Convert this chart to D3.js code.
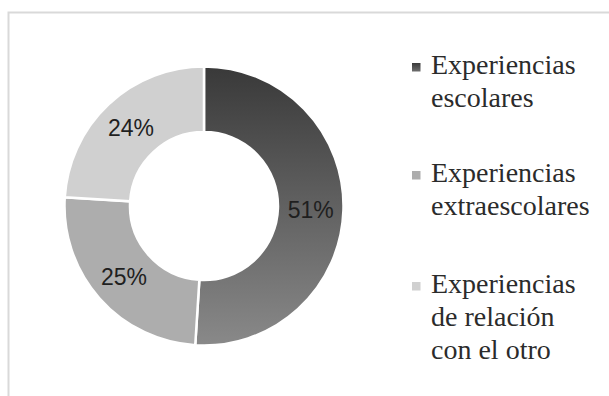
<!DOCTYPE html>
<html>
<head>
<meta charset="utf-8">
<script src="https://cdn.jsdelivr.net/npm/d3@7"></script>
<style>
  body { margin: 0; background: #fff; }
  svg { display: block; }
</style>
</head>
<body>
<div id="chart"></div>
<script>
// data
var categories = ["Experiencias escolares", "Experiencias extraescolares", "Experiencias de relación con el otro"];
var values = [51, 25, 24];
var legendLines = [["Experiencias", "escolares"], ["Experiencias", "extraescolares"], ["Experiencias", "de relación", "con el otro"]];
var colors = ["url(#grad1)", "#adadad", "#d0d0d0"];

var width = 609, height = 396;
var cx = 204, cy = 206, outerR = 139.5, innerR = 74;

var svg = d3.select("#chart")
    .append("svg")
    .attr("width", width)
    .attr("height", height);

// gradients (slice one is shaded top to bottom)
var defs = svg.append("defs");
var g1 = defs.append("linearGradient")
    .attr("id", "grad1")
    .attr("gradientUnits", "userSpaceOnUse")
    .attr("x1", 0).attr("y1", -outerR)
    .attr("x2", 0).attr("y2", outerR);
g1.append("stop").attr("offset", "0%").attr("stop-color", "#393939");
g1.append("stop").attr("offset", "100%").attr("stop-color", "#898989");

var g2 = defs.append("linearGradient")
    .attr("id", "gradLeg")
    .attr("x1", 0).attr("y1", 0).attr("x2", 0).attr("y2", 1);
g2.append("stop").attr("offset", "0%").attr("stop-color", "#3a3a3a");
g2.append("stop").attr("offset", "100%").attr("stop-color", "#6e6e6e");

// frame (only top/left visible)
svg.append("rect")
    .attr("x", 8.5).attr("y", 12.5)
    .attr("width", 640).attr("height", 420)
    .attr("fill", "none")
    .attr("stroke", "#d9d9d9")
    .attr("stroke-width", 2);

var pie = d3.pie().sort(null).value(function (d) { return d; });
var arc = d3.arc().innerRadius(innerR).outerRadius(outerR);
var arcs = pie(values);

var chart = svg.append("g")
    .attr("transform", "translate(" + cx + "," + cy + ")");

chart.selectAll("path")
    .data(arcs)
    .enter()
    .append("path")
    .attr("d", arc)
    .attr("fill", function (d, i) { return colors[i]; })
    .attr("stroke", "#fff")
    .attr("stroke-width", 2.5);

// percent labels
chart.selectAll("text.pct")
    .data(arcs)
    .enter()
    .append("text")
    .attr("class", "pct")
    .attr("x", function (d) { return arc.centroid(d)[0]; })
    .attr("y", function (d) { return arc.centroid(d)[1]; })
    .attr("dy", "0.36em")
    .attr("text-anchor", "middle")
    .style("font-family", "'Liberation Sans', Arial, sans-serif")
    .style("font-size", "23px")
    .style("fill", "#1f1f1f")
    .text(function (d) { return d.data + "%"; });

// legend
var legendY = [74, 182, 293];
var legend = svg.append("g");
var items = legend.selectAll("g")
    .data(categories)
    .enter()
    .append("g")
    .attr("transform", function (d, i) { return "translate(0," + legendY[i] + ")"; });

items.append("rect")
    .attr("x", 412)
    .attr("y", -11)
    .attr("width", 8.5)
    .attr("height", 8.5)
    .attr("fill", function (d, i) { return i === 0 ? "url(#gradLeg)" : colors[i]; });

items.append("text")
    .attr("x", 431)
    .style("font-family", "'Liberation Serif', 'Times New Roman', serif")
    .style("font-size", "28px")
    .style("fill", "#2b2b2b")
    .selectAll("tspan")
    .data(function (d, i) { return legendLines[i]; })
    .enter()
    .append("tspan")
    .attr("x", 431)
    .attr("dy", function (d, j) { return j === 0 ? 0 : 33; })
    .text(function (d) { return d; });
</script>
</body>
</html>
